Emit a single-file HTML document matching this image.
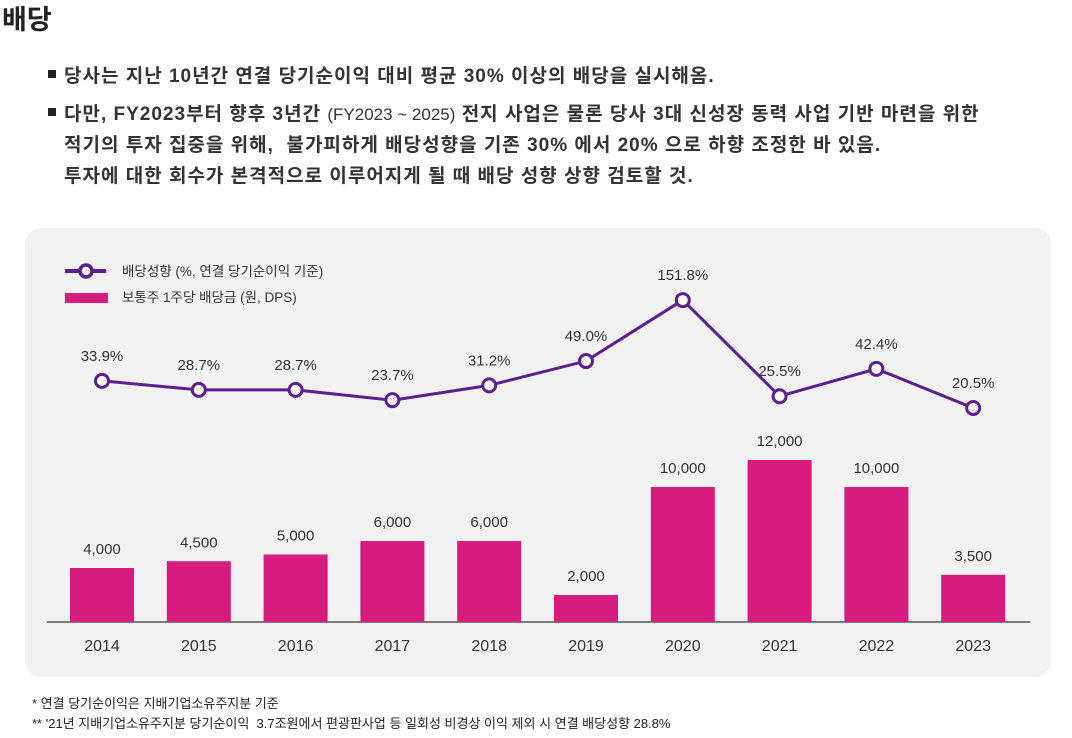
<!DOCTYPE html>
<html><head><meta charset="utf-8"><style>
body{margin:0;width:1072px;height:738px;background:#fff;font-family:"Liberation Sans","Noto Sans CJK KR",sans-serif;color:#222;position:relative;overflow:hidden}
.t{position:absolute;white-space:nowrap}
</style></head><body>
<div class="t" style="left:2px;top:-2px;font-size:27px;font-weight:bold">배당</div>
<div>
<div class="t" style="left:48px;top:70px;width:8px;height:8px;background:#222"></div>
<div class="t" style="left:64px;top:61px;font-size:19px;letter-spacing:1px;font-weight:bold;color:#333">당사는 지난 10년간 연결 당기순이익 대비 평균 30% 이상의 배당을 실시해옴.</div>
<div class="t" style="left:48px;top:108px;width:8px;height:8px;background:#222"></div>
<div class="t" style="left:64px;top:99px;font-size:19px;letter-spacing:1px;font-weight:bold;color:#333;line-height:31px">다만, FY2023부터 향후 3년간 <span style="font-weight:normal;font-size:17px;letter-spacing:0">(FY2023 ~ 2025)</span> 전지 사업은 물론 당사 3대 신성장 동력 사업 기반 마련을 위한<br>적기의 투자 집중을 위해,&nbsp; 불가피하게 배당성향을 기존 30% 에서 20% 으로 하향 조정한 바 있음.<br>투자에 대한 회수가 본격적으로 이루어지게 될 때 배당 성향 상향 검토할 것.</div>
</div>
<div style="position:absolute;left:25px;top:228px;width:1026px;height:449px;background:#f2f2f2;border-radius:16px"></div>
<svg id="c" width="1072" height="738" style="position:absolute;left:0;top:0" font-family="Liberation Sans, Noto Sans CJK KR, sans-serif">
<g>
<line x1="65" y1="271" x2="106" y2="271" stroke="#5c1f8f" stroke-width="4"/>
<circle cx="86" cy="271" r="6" fill="#fff" stroke="#5c1f8f" stroke-width="3.5"/>
<text x="122" y="276" font-size="13.5" fill="#333">배당성향 (%, 연결 당기순이익 기준)</text>
<rect x="65" y="293" width="43" height="10" fill="#d81b7e"/>
<text x="122" y="302" font-size="13.5" fill="#333">보통주 1주당 배당금 (원, DPS)</text>
</g>
<line x1="47" y1="622" x2="1030" y2="622" stroke="#555" stroke-width="1.5"/>
</svg>
<div class="t" style="left:32px;top:693px;font-size:13px">* 연결 당기순이익은 지배기업소유주지분 기준</div>
<div class="t" style="left:32px;top:713px;font-size:13px">** '21년 지배기업소유주지분 당기순이익&nbsp; 3.7조원에서 편광판사업 등 일회성 비경상 이익 제외 시 연결 배당성향 28.8%</div>
<script>
const years=["2014","2015","2016","2017","2018","2019","2020","2021","2022","2023"];
const dps=[4000,4500,5000,6000,6000,2000,10000,12000,10000,3500];
const payout=[33.9,28.7,28.7,23.7,31.2,49.0,151.8,25.5,42.4,20.5];
const dpsLabels=["4,000","4,500","5,000","6,000","6,000","2,000","10,000","12,000","10,000","3,500"];
const svg=document.getElementById('c');const NS='http://www.w3.org/2000/svg';
function mk(t,a){const e=document.createElementNS(NS,t);for(const k in a)e.setAttribute(k,a[k]);svg.appendChild(e);return e;}
const xs=i=>102+i*96.8;
const yb=v=>622-v*162/12000;
const yl=v=>408-(Math.log(v)-Math.log(20.5))*53.9;
years.forEach((y,i)=>{
 const b=mk('rect',{x:xs(i)-32,y:yb(dps[i]),width:64,height:622-yb(dps[i]),fill:'#d81b7e'});
 
 
 const l=mk('text',{x:xs(i),y:yb(dps[i])-14,'text-anchor':'middle','font-size':'15',fill:'#333'});l.textContent=dpsLabels[i];
 
 
 const t=mk('text',{x:xs(i),y:651,'text-anchor':'middle','font-size':'16',fill:'#333'});t.textContent=y;
 
 
});
const p=mk('polyline',{points:payout.map((v,i)=>xs(i)+','+yl(v)).join(' '),fill:'none',stroke:'#5c1f8f','stroke-width':3});


payout.forEach((v,i)=>{
 const c=mk('circle',{cx:xs(i),cy:yl(v),r:6.5,fill:'#fff',stroke:'#5c1f8f','stroke-width':3});
 
 
 const l=mk('text',{x:xs(i),y:yl(v)-20,'text-anchor':'middle','font-size':'15',fill:'#333'});l.textContent=v.toFixed(1)+'%';
 
 
});
</script>
</body></html>
